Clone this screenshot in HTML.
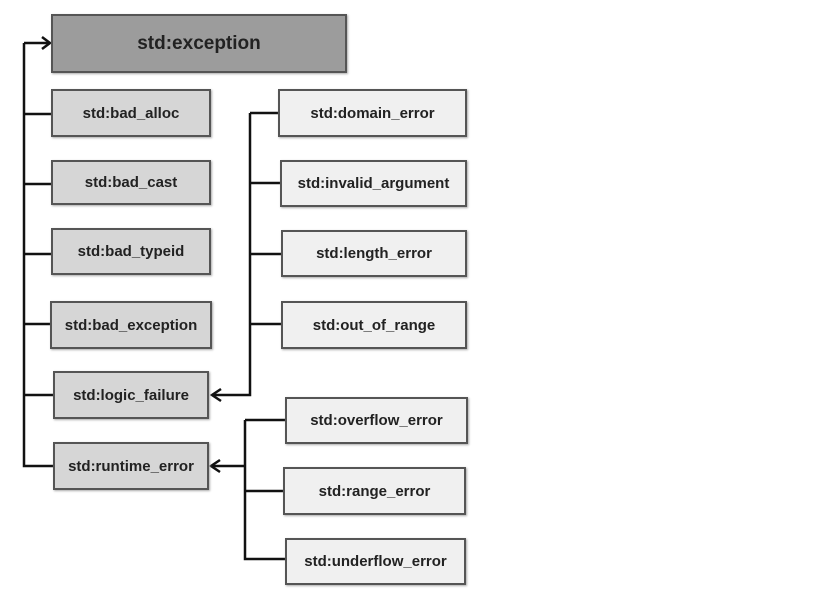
<!DOCTYPE html>
<html><head><style>
body{margin:0;background:#fff;width:821px;height:601px;overflow:hidden;position:relative;font-family:"Liberation Sans",sans-serif;}
.b{position:absolute;box-sizing:border-box;border:2px solid #555;display:flex;align-items:center;justify-content:center;font-weight:bold;font-size:15px;color:#222;box-shadow:1px 1px 2px #aaa;white-space:nowrap;}
.g{background:#d6d6d6}.l{background:#f0f0f0}
</style></head><body>
<svg width="821" height="601" style="position:absolute;left:0;top:0">
<g stroke="#111" stroke-width="2.5" fill="none">
<path d="M24 43V466H53"/><path d="M24 43H49"/><path d="M42 37L50 43L42 49"/>
<path d="M24 114H51M24 184H51M24 254H51M24 324H51M24 395H53"/>
<path d="M250 113V395H212"/><path d="M221 389L212 395L221 401"/>
<path d="M250 113H278M250 183H280M250 254H281M250 324H281"/>
<path d="M245 420V559H285M245 420H285M245 491H283M245 466H211"/><path d="M220 460L211 466L220 472"/>
</g></svg>
<div class="b" style="left:51px;top:14px;width:296px;height:59px;background:#9c9c9c;font-size:19px">std:exception</div>
<div class="b g" style="left:51px;top:89px;width:160px;height:48px">std:bad_alloc</div>
<div class="b g" style="left:51px;top:160px;width:160px;height:45px">std:bad_cast</div>
<div class="b g" style="left:51px;top:228px;width:160px;height:47px">std:bad_typeid</div>
<div class="b g" style="left:50px;top:301px;width:162px;height:48px">std:bad_exception</div>
<div class="b g" style="left:53px;top:371px;width:156px;height:48px">std:logic_failure</div>
<div class="b g" style="left:53px;top:442px;width:156px;height:48px">std:runtime_error</div>
<div class="b l" style="left:278px;top:89px;width:189px;height:48px">std:domain_error</div>
<div class="b l" style="left:280px;top:160px;width:187px;height:47px">std:invalid_argument</div>
<div class="b l" style="left:281px;top:230px;width:186px;height:47px">std:length_error</div>
<div class="b l" style="left:281px;top:301px;width:186px;height:48px">std:out_of_range</div>
<div class="b l" style="left:285px;top:397px;width:183px;height:47px">std:overflow_error</div>
<div class="b l" style="left:283px;top:467px;width:183px;height:48px">std:range_error</div>
<div class="b l" style="left:285px;top:538px;width:181px;height:47px">std:underflow_error</div>
</body></html>
